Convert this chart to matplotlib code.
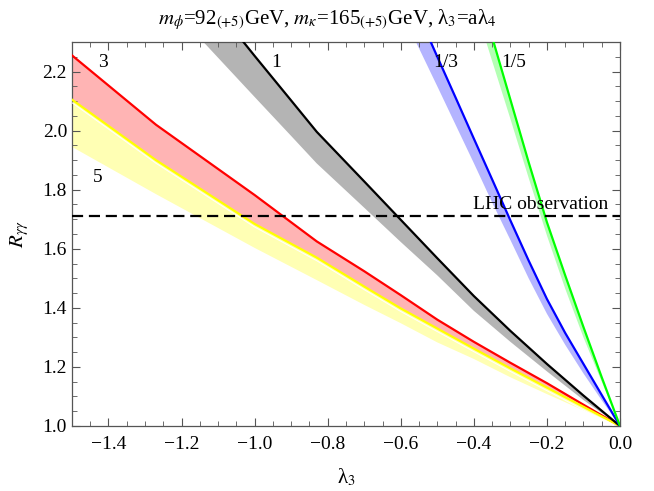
import matplotlib
matplotlib.use("Agg")
import matplotlib.pyplot as plt
import matplotlib.patheffects as pe
from matplotlib.ticker import MultipleLocator, FuncFormatter
import numpy as np

plt.rcParams["font.family"] = ["Liberation Serif", "DejaVu Serif"]
plt.rcParams["mathtext.fontset"] = "stix"

# values
LHC_VALUE = 1.71

# a = 3 (red line) and a = 5 (yellow line + lower edge)
x_ry = [-1.5, -1.27, -1.0, -0.83, -0.7, -0.6, -0.5, -0.4, -0.3, -0.2, -0.1, 0.0]
red_line = [2.255, 2.02, 1.782, 1.625, 1.524, 1.443, 1.36, 1.285, 1.214, 1.145, 1.072, 1.0]
yellow_line = [2.105, 1.90, 1.684, 1.57, 1.472, 1.398, 1.33, 1.262, 1.195, 1.13, 1.065, 1.0]
yellow_low = [1.945, 1.785, 1.603, 1.494, 1.41, 1.348, 1.283, 1.227, 1.165, 1.108, 1.053, 1.0]

# a = 1 (black line, grey band)
x_black = [-1.05, -1.0, -0.9, -0.83, -0.7, -0.6, -0.5, -0.4, -0.3, -0.2, -0.1, 0.0]
black_line = [2.33, 2.253, 2.102, 1.996, 1.828, 1.698, 1.568, 1.44, 1.322, 1.21, 1.103, 1.0]
x_grey = [-1.16, -1.14, -1.0, -0.9, -0.83, -0.7, -0.6, -0.5, -0.4, -0.3, -0.2, -0.1, 0.0]
grey_low = [2.327, 2.30, 2.114, 1.982, 1.889, 1.739, 1.623, 1.51, 1.39, 1.285, 1.185, 1.088, 1.0]

# a = 1/3 (blue)
x_blue = [-0.55, -0.5, -0.45, -0.4, -0.35, -0.3, -0.25, -0.2, -0.15, -0.1, -0.05, 0.0]
blue_line = [2.39, 2.25, 2.112, 1.973, 1.835, 1.696, 1.56, 1.43, 1.315, 1.21, 1.105, 1.0]
x_blue_low = [-0.57, -0.5, -0.45, -0.4, -0.35, -0.3, -0.25, -0.2, -0.15, -0.1, -0.05, 0.0]
blue_low = [2.33, 2.15, 2.02, 1.89, 1.757, 1.63, 1.50, 1.38, 1.275, 1.178, 1.087, 1.0]

# a = 1/5 (green)
x_green = [-0.35, -0.3, -0.25, -0.2, -0.15, -0.1, -0.05, 0.0]
green_line = [2.317, 2.105, 1.893, 1.69, 1.51, 1.335, 1.165, 1.0]
x_green_low = [-0.37, -0.35, -0.3, -0.25, -0.2, -0.15, -0.1, -0.05, 0.0]
green_low = [2.315, 2.236, 2.04, 1.84, 1.645, 1.465, 1.30, 1.15, 1.0]

curve_labels = ["3", "1", "1/3", "1/5", "5"]
label_pos_x = [-1.415, -0.94, -0.478, -0.292, -1.43]
label_pos_y = [2.232, 2.232, 2.232, 2.232, 1.84]


def band(ax, xa, ya, xb, yb, color):
    xs = np.concatenate([xa, xb[::-1]])
    ys = np.concatenate([ya, yb[::-1]])
    ax.fill(xs, ys, color=color, lw=0, zorder=1)


def minus_fmt(v, pos):
    s = f"{v:.1f}"
    if s == "-0.0":
        s = "0.0"
    return s.replace("-", "\u2212")


fig = plt.figure(figsize=(6.54, 4.91), dpi=100)
ax = fig.add_axes([0.110, 0.1324, 0.838, 0.782])

band(ax, np.array(x_ry), np.array(yellow_line), np.array(x_ry), np.array(yellow_low), "#ffffb4")
band(ax, np.array(x_ry), np.array(red_line), np.array(x_ry), np.array(yellow_line), "#ffb4b4")
band(ax, np.array(x_black), np.array(black_line), np.array(x_grey), np.array(grey_low), "#b4b4b4")
band(ax, np.array(x_blue), np.array(blue_line), np.array(x_blue_low), np.array(blue_low), "#b4b4ff")
band(ax, np.array(x_green), np.array(green_line), np.array(x_green_low), np.array(green_low), "#b4ffb4")

lw = 1.6
ax.plot(x_ry, red_line, color="#ff0000", lw=lw, zorder=3)
ax.plot(x_ry, yellow_line, color="#ffff00", lw=lw, zorder=3,
        path_effects=[pe.Stroke(offset=(0, -2.2), linewidth=0.7, foreground="white"), pe.Normal()])
ax.plot(x_black, black_line, color="black", lw=lw, zorder=3)
ax.plot(x_blue, blue_line, color="#0000ff", lw=lw, zorder=3)
ax.plot(x_green, green_line, color="#00ff00", lw=lw, zorder=3)

ax.axhline(LHC_VALUE, color="black", lw=1.6, ls=(0, (5, 2.6)), zorder=4)
ax.text(-0.033, LHC_VALUE + 0.012, "LHC observation", ha="right", va="bottom", fontsize=14, zorder=5)

for txt, lx, ly in zip(curve_labels, label_pos_x, label_pos_y):
    ax.text(lx, ly, txt, ha="center", va="center", fontsize=14, zorder=5)

ax.set_xlim(-1.5, 0.0)
ax.set_ylim(1.0, 2.3)
ax.xaxis.set_major_locator(MultipleLocator(0.2))
ax.xaxis.set_minor_locator(MultipleLocator(0.05))
ax.yaxis.set_major_locator(MultipleLocator(0.2))
ax.yaxis.set_minor_locator(MultipleLocator(0.05))
ax.xaxis.set_major_formatter(FuncFormatter(minus_fmt))
ax.yaxis.set_major_formatter(FuncFormatter(minus_fmt))
ax.tick_params(which="both", direction="in", top=True, right=True, color="#555555", labelsize=14)
ax.tick_params(which="major", length=6, width=0.8)
ax.tick_params(which="minor", length=3.5, width=0.6)
ax.tick_params(axis="x", which="major", pad=7)
for sp in ax.spines.values():
    sp.set_color("#555555")
    sp.set_linewidth(0.9)

ax.set_xlabel("λ$_3$", fontsize=15, labelpad=10)
ax.set_ylabel(r"$R_{\gamma\gamma}$", fontsize=15, labelpad=8)
fig.suptitle(r"$m_\phi$=92$_{(+5)}$GeV, $m_\kappa$=165$_{(+5)}$GeV, λ$_3$=aλ$_4$",
             fontsize=15, x=0.5, y=0.985)

fig.savefig("out.png", dpi=100)
